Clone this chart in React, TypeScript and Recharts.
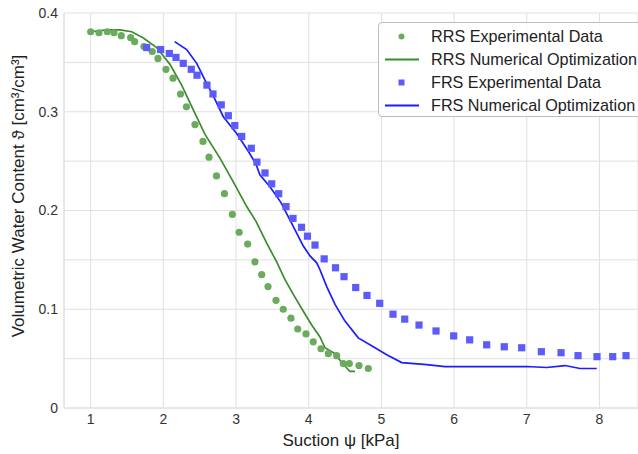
import { ComposedChart, Line, Scatter, XAxis, YAxis, CartesianGrid } from "recharts";

// RRS experimental (green dots)
const rrsExpSuction = [
  1.0, 1.114, 1.229, 1.321, 1.421, 1.55, 1.605, 1.733, 1.847, 1.926, 2.036, 2.133, 2.236, 2.318,
  2.435, 2.545, 2.628, 2.731, 2.841, 2.949, 3.043, 3.16, 3.26, 3.353, 3.44, 3.55, 3.65, 3.756,
  3.849, 3.963, 4.063, 4.169, 4.27, 4.385, 4.476, 4.559, 4.692, 4.82,
];
const rrsExpTheta = [
  0.381, 0.38, 0.381, 0.38, 0.377, 0.375, 0.371, 0.366, 0.361, 0.354, 0.343, 0.334, 0.318, 0.305,
  0.287, 0.27, 0.254, 0.235, 0.217, 0.196, 0.178, 0.166, 0.148, 0.135, 0.123, 0.109, 0.1, 0.091,
  0.08, 0.075, 0.067, 0.06, 0.055, 0.053, 0.045, 0.045, 0.043, 0.04,
];

// RRS numerical optimization (green line)
const rrsNumSuction = [
  1.0, 1.224, 1.403, 1.564, 1.72, 1.908, 2.091, 2.252, 2.412, 2.573, 2.779, 2.962, 3.147, 3.275,
  3.422, 3.559, 3.674, 3.788, 3.926, 4.041, 4.155, 4.224, 4.362, 4.454, 4.568, 4.637,
];
const rrsNumTheta = [
  0.381, 0.383, 0.383, 0.381, 0.375, 0.365, 0.348, 0.327, 0.302, 0.277, 0.253, 0.229, 0.204, 0.189,
  0.167, 0.148, 0.13, 0.115, 0.098, 0.084, 0.072, 0.061, 0.055, 0.046, 0.037, 0.037,
];

// FRS experimental (blue squares)
const frsExpSuction = [
  1.771, 1.963, 2.082, 2.174, 2.274, 2.384, 2.463, 2.6, 2.683, 2.797, 2.894, 2.983, 3.078, 3.21,
  3.288, 3.399, 3.491, 3.587, 3.688, 3.784, 3.901, 3.983, 4.087, 4.213, 4.369, 4.486, 4.647, 4.802,
  4.977, 5.16, 5.321, 5.518, 5.752, 5.995, 6.215, 6.449, 6.691, 6.931, 7.201, 7.472, 7.706, 7.967,
  8.183, 8.366,
];
const frsExpTheta = [
  0.365, 0.363, 0.359, 0.355, 0.349, 0.343, 0.337, 0.327, 0.318, 0.307, 0.296, 0.286, 0.275, 0.263,
  0.249, 0.238, 0.227, 0.217, 0.204, 0.192, 0.183, 0.174, 0.165, 0.151, 0.142, 0.133, 0.122, 0.114,
  0.106, 0.095, 0.09, 0.084, 0.078, 0.073, 0.069, 0.064, 0.062, 0.061, 0.057, 0.056, 0.053, 0.052,
  0.052, 0.053,
];

// FRS numerical optimization (blue line)
const frsNumSuction = [
  2.156, 2.321, 2.459, 2.573, 2.687, 2.825, 3.009, 3.169, 3.275, 3.33, 3.467, 3.619, 3.766, 3.926,
  4.018, 4.11, 4.155, 4.248, 4.362, 4.499, 4.682, 4.889, 5.073, 5.28, 5.624, 5.875, 6.312, 7.0,
  7.275, 7.527, 7.733, 7.963,
];
const frsNumTheta = [
  0.371, 0.363, 0.349, 0.332, 0.316, 0.295, 0.278, 0.26, 0.247, 0.236, 0.224, 0.208, 0.187, 0.164,
  0.154, 0.147, 0.14, 0.123, 0.105, 0.088, 0.071, 0.062, 0.054, 0.046, 0.044, 0.042, 0.042, 0.042,
  0.041, 0.043, 0.04, 0.04,
];

const xTicks = [1, 2, 3, 4, 5, 6, 7, 8];
const yTicks = [0, 0.05, 0.1, 0.15, 0.2, 0.25, 0.3, 0.35, 0.4];

const GREEN_DOT = "#6aab5e";
const GREEN_LINE = "#3b8c2c";
const BLUE_DOT = "#5c5cfa";
const BLUE_LINE = "#1c1cff";
const GRID = "#e0e0e0";
const FONT = "'Liberation Sans', Arial, sans-serif";

const zip = (xs: number[], ys: number[]) => xs.map((x, i) => ({ x, y: ys[i] }));

const rrsExp = zip(rrsExpSuction, rrsExpTheta);
const rrsNum = zip(rrsNumSuction, rrsNumTheta);
const frsExp = zip(frsExpSuction, frsExpTheta);
const frsNum = zip(frsNumSuction, frsNumTheta);

const formatY = (v: number) => {
  const r = Math.round(v * 100);
  if (r % 10 !== 0) return "";
  return v === 0 ? "0" : String(r / 100);
};

const circleShape = (props: any) => (
  <circle cx={props.cx} cy={props.cy} r={3.6} fill={GREEN_DOT} />
);
const squareShape = (props: any) => (
  <rect x={props.cx - 3.6} y={props.cy - 3.6} width={7.2} height={7.2} fill={BLUE_DOT} />
);

function YLabel() {
  return (
    <text
      x={18}
      y={196}
      transform="rotate(-90 18 196)"
      textAnchor="middle"
      dominantBaseline="central"
      fontSize={17}
      fill="#222"
    >
      Volumetric Water Content ϑ [cm³/cm³]
    </text>
  );
}

function XLabel() {
  return (
    <text x={341} y={440} textAnchor="middle" dominantBaseline="central" fontSize={17} fill="#222">
      Suction ψ [kPa]
    </text>
  );
}

const legendItems = [
  { label: "RRS Experimental Data", kind: "circle", color: GREEN_DOT },
  { label: "RRS Numerical Optimization", kind: "line", color: GREEN_LINE },
  { label: "FRS Experimental Data", kind: "square", color: BLUE_DOT },
  { label: "FRS Numerical Optimization", kind: "line", color: BLUE_LINE },
];

function ChartLegend() {
  return (
    <div
      style={{
        position: "absolute",
        left: 378,
        top: 22,
        width: 300,
        height: 95,
        border: "1px solid #bdbdbd",
        borderRadius: 4,
        background: "rgba(255,255,255,0.85)",
        fontFamily: FONT,
        fontSize: 16.2,
        color: "#222",
        boxSizing: "border-box",
      }}
    >
      {legendItems.map((item, i) => (
        <div
          key={item.label}
          style={{
            position: "absolute",
            left: 0,
            top: 2 + i * 23,
            height: 23,
            display: "flex",
            alignItems: "center",
            whiteSpace: "nowrap",
          }}
        >
          <svg width={52} height={23} style={{ display: "block" }}>
            {item.kind === "line" && (
              <line x1={6} x2={40} y1={11.5} y2={11.5} stroke={item.color} strokeWidth={1.8} />
            )}
            {item.kind === "circle" && <circle cx={22.5} cy={11.5} r={3} fill={item.color} />}
            {item.kind === "square" && (
              <rect x={19.5} y={8.5} width={6} height={6} fill={item.color} />
            )}
          </svg>
          <span>{item.label}</span>
        </div>
      ))}
    </div>
  );
}

export default function App() {
  return (
    <div
      style={{
        position: "absolute",
        left: 0,
        top: 0,
        width: 638,
        height: 454,
        overflow: "hidden",
        background: "#fff",
        fontFamily: FONT,
      }}
    >
      <ComposedChart
        width={638}
        height={454}
        margin={{ top: 13, right: 0, bottom: 0, left: 0 }}
        style={{ fontFamily: FONT }}
      >
        <CartesianGrid stroke={GRID} strokeWidth={1} />
        <XAxis
          type="number"
          dataKey="x"
          domain={[0.633, 8.531]}
          ticks={xTicks}
          allowDataOverflow
          height={46}
          tickSize={0}
          tickMargin={6}
          axisLine={{ stroke: GRID }}
          tick={{ fontSize: 14, fill: "#333" }}
          label={<XLabel />}
        />
        <YAxis
          type="number"
          dataKey="y"
          domain={[0, 0.4]}
          ticks={yTicks}
          width={64}
          tickSize={0}
          tickMargin={6}
          axisLine={{ stroke: GRID }}
          tickFormatter={formatY}
          tick={{ fontSize: 14, fill: "#333" }}
          label={<YLabel />}
        />
        <Scatter
          name="RRS Experimental Data"
          data={rrsExp}
          dataKey="y"
          shape={circleShape}
          isAnimationActive={false}
        />
        <Line
          name="RRS Numerical Optimization"
          data={rrsNum}
          dataKey="y"
          type="linear"
          stroke={GREEN_LINE}
          strokeWidth={1.7}
          dot={false}
          activeDot={false}
          isAnimationActive={false}
        />
        <Scatter
          name="FRS Experimental Data"
          data={frsExp}
          dataKey="y"
          shape={squareShape}
          isAnimationActive={false}
        />
        <Line
          name="FRS Numerical Optimization"
          data={frsNum}
          dataKey="y"
          type="linear"
          stroke={BLUE_LINE}
          strokeWidth={1.7}
          dot={false}
          activeDot={false}
          isAnimationActive={false}
        />
      </ComposedChart>
      <ChartLegend />
    </div>
  );
}
